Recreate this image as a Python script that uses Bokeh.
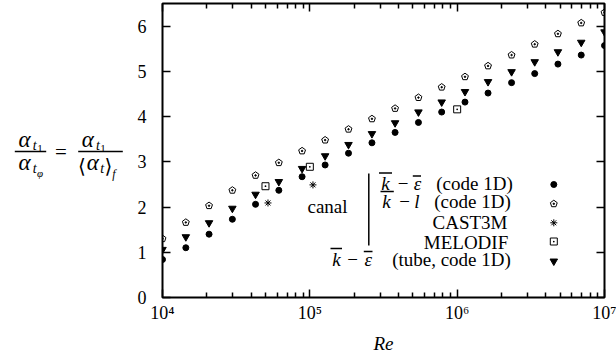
from bokeh.plotting import figure
from bokeh.layouts import row
from bokeh.models import Label, Arrow, LinearAxis, LogAxis, FixedTicker, Range1d
from bokeh.core.properties import value
from bokeh.embed import file_html
from bokeh.resources import INLINE
import math

# ---------------- data ----------------
re_1d = [1.00e4, 1.44e4, 2.07e4, 2.98e4, 4.28e4, 6.16e4, 8.86e4, 1.27e5, 1.83e5, 2.64e5,
         3.79e5, 5.46e5, 7.85e5, 1.13e6, 1.62e6, 2.34e6, 3.36e6, 4.83e6, 6.95e6, 1.00e7]
ke_canal = [0.84, 1.10, 1.40, 1.73, 2.06, 2.37, 2.67, 2.93, 3.19, 3.42,
            3.65, 3.87, 4.10, 4.32, 4.52, 4.75, 4.95, 5.16, 5.36, 5.57]
kl_canal = [1.30, 1.66, 2.03, 2.37, 2.70, 2.98, 3.24, 3.48, 3.72, 3.95,
            4.18, 4.42, 4.65, 4.88, 5.12, 5.36, 5.60, 5.83, 6.07, 6.30]
ke_tube = [1.06, 1.34, 1.65, 1.97, 2.28, 2.56, 2.85, 3.13, 3.38, 3.62,
           3.86, 4.10, 4.32, 4.55, 4.77, 4.99, 5.21, 5.43, 5.64, 5.87]
re_cast3m = [5.2e4, 1.05e5]
cast3m = [2.09, 2.49]
re_melodif = [5.0e4, 1.0e5, 1.0e6]
melodif = [2.46, 2.89, 4.16]

x_major = [1e4, 1e5, 1e6, 1e7]
x_labels = ["10⁴", "10⁵", "10⁶", "10⁷"]
y_major = [0, 1, 2, 3, 4, 5, 6]

# ---------------- layout ----------------
FONT = "'Liberation Serif', 'DejaVu Serif', serif"
LW = 125                      # width of the y-title panel
W, H = 616 - LW, 363
ML, MR, MT, MB = 37, 12, 3, 66
FW = W - ML - MR
FH = H - MT - MB
X_LO, X_HI = 1e4, 1e7
Y_LO, Y_HI = 0.0, 6.5
BASE_SHIFT = 0.27             # empirical raise of the alphabetic baseline (in em)

p = figure(width=W, height=H, x_axis_type="log",
           x_range=Range1d(X_LO, X_HI), y_range=Range1d(Y_LO, Y_HI),
           output_backend="svg", toolbar_location=None,
           min_border_left=ML, min_border_right=MR, min_border_top=MT, min_border_bottom=MB)
p.grid.visible = False
p.background_fill_color = "white"
p.border_fill_color = "white"
p.outline_line_color = "black"
p.outline_line_width = 2

x_minor = [m * t for t in x_major[:-1] for m in range(2, 10)]

def style_axis(ax, show_labels, minor=True):
    ax.axis_line_color = None
    ax.major_tick_in = 8
    ax.major_tick_out = 0
    ax.minor_tick_in = 5 if minor else 0
    ax.minor_tick_out = 0
    ax.major_tick_line_color = "black"
    ax.major_tick_line_width = 1.5
    ax.minor_tick_line_color = "black" if minor else None
    ax.minor_tick_line_width = 1.5
    ax.major_label_text_font = FONT
    if show_labels:
        ax.major_label_text_font_size = "18px"
        ax.major_label_text_color = "black"
    else:
        ax.major_label_text_font_size = "1px"
        ax.major_label_text_color = None
        ax.major_label_standoff = 0

xa = p.xaxis[0]
xa.ticker = FixedTicker(ticks=x_major, minor_ticks=x_minor)
xa.major_label_overrides = {float(v): s for v, s in zip(x_major, x_labels)}
xa.major_label_standoff = 5
style_axis(xa, True)
xa.axis_label = "Re"
xa.axis_label_text_font = FONT
xa.axis_label_text_font_size = "19px"
xa.axis_label_text_font_style = "italic"
xa.axis_label_text_color = "black"
xa.axis_label_standoff = 7

ya = p.yaxis[0]
ya.ticker = FixedTicker(ticks=y_major)
ya.major_label_standoff = 16
style_axis(ya, True, minor=False)

top = LogAxis(ticker=FixedTicker(ticks=x_major, minor_ticks=x_minor))
style_axis(top, False)
p.add_layout(top, "above")
right = LinearAxis(ticker=FixedTicker(ticks=y_major))
style_axis(right, False, minor=False)
p.add_layout(right, "right")

# ---------------- data marks ----------------
p.scatter(re_1d, ke_canal, marker="circle", size=6, fill_color="black", line_color="black")
p.scatter(re_1d, ke_tube, marker="inverted_triangle", size=7.5, fill_color="black", line_color="black")
p.ngon(x=re_1d, y=kl_canal, radius=3.6, radius_units="screen", n=5,
       fill_color=None, line_color="black", line_width=1)
p.scatter(re_1d, kl_canal, marker="circle", size=1.5, fill_color="black", line_color="black")
p.scatter(re_cast3m, cast3m, marker="asterisk", size=7, line_color="black", line_width=1)
p.scatter(re_melodif, melodif, marker="square_dot", size=7, fill_color=None, line_color="black", line_width=1)

# ---------------- legend (positions given in page pixels) ----------------
FX0 = LW + ML          # page x of frame left
FY0 = MT + FH          # page y of frame bottom
LF = 19                # legend font size

def lab(text, X, Y, size=LF, style="normal", align="center"):
    Yb = Y - BASE_SHIFT * size
    p.add_layout(Label(x=X - FX0, y=FY0 - Yb, x_units="screen", y_units="screen",
                       text=text, text_font=FONT, text_font_size=f"{size}px",
                       text_font_style=style, text_align=align, text_baseline="alphabetic",
                       text_color="black"))

def seg(X0, Y0, X1, Y1, w=1.3):
    p.add_layout(Arrow(end=None, x_start=X0 - FX0, y_start=FY0 - Y0,
                       x_end=X1 - FX0, y_end=FY0 - Y1, start_units="screen", end_units="screen",
                       line_color="black", line_width=w))

def data_x(X):
    return 10 ** (math.log10(X_LO) + (X - FX0) / FW * (math.log10(X_HI) - math.log10(X_LO)))
def data_y(Y):
    return Y_LO + (FY0 - Y) / FH * (Y_HI - Y_LO)

rows_B = [188.3, 206.0, 227.5, 247.3, 264.0]   # text baselines
# row 1 : k-bar - eps-bar (code 1D)
lab("k", 385, rows_B[0], style="italic")
lab("−", 402.5, rows_B[0])
lab("ε", 417, rows_B[0], style="italic")
seg(378.5, 172.5, 391.5, 172.5)
seg(412.3, 175.5, 420.5, 175.5)
lab("(code 1D)", 474, rows_B[0])
# row 2 : k - l (code 1D)
lab("k", 386, rows_B[1], style="italic")
lab("−", 404, rows_B[1])
lab("l", 416.5, rows_B[1], style="italic")
seg(380, 191, 393.3, 191)
lab("(code 1D)", 472, rows_B[1])
# rows 3, 4
lab("CAST3M", 469.5, rows_B[2])
lab("MELODIF", 465.5, rows_B[3])
# row 5 : k-bar - eps-bar (tube, code 1D)
lab("k", 336, rows_B[4], style="italic")
lab("−", 352, rows_B[4])
lab("ε", 367.7, rows_B[4], style="italic")
seg(330, 248, 341.5, 248)
seg(363.3, 251, 372, 251)
lab("(tube, code 1D)", 451, rows_B[4])
# group label
lab("canal", 327, 211.5)
seg(368.3, 173, 368.3, 245, w=1.5)

MX = data_x(553.3)
p.scatter([MX], [data_y(184)], marker="circle", size=6, fill_color="black", line_color="black")
p.ngon(x=[MX], y=[data_y(203.3)], radius=3.6, radius_units="screen", n=5,
       fill_color=None, line_color="black", line_width=1)
p.scatter([MX], [data_y(203.3)], marker="circle", size=1.5, fill_color="black", line_color="black")
p.scatter([MX], [data_y(222.3)], marker="asterisk", size=7, line_color="black", line_width=1)
p.scatter([MX], [data_y(241)], marker="square_dot", size=7, fill_color=None, line_color="black", line_width=1)
p.scatter([MX], [data_y(260.7)], marker="inverted_triangle", size=7.5, fill_color="black", line_color="black")

# ---------------- y-title panel: a_t1 / a_tphi = a_t1 / <a_t>_f ----------------
# Bokeh aligns the frames of plots in a row, so this panel's frame spans the
# same page rows as the main frame; its y range is set so that data y == page y.
L = figure(width=LW, height=H, x_range=Range1d(0, LW), y_range=Range1d(MT + FH, MT),
           output_backend="svg", toolbar_location=None,
           x_axis_location=None, y_axis_location=None,
           min_border_left=0, min_border_right=0, min_border_top=MT, min_border_bottom=MB)
L.grid.visible = False
L.outline_line_color = None
L.background_fill_color = "white"
L.border_fill_color = "white"

def ltxt(text, X, Y, size, style="normal"):
    L.text(x=[X], y=[Y - BASE_SHIFT * size], text=[text], text_font=value(FONT),
           text_font_size=value(f"{size}px"), text_font_style=style,
           text_align="center", text_baseline="alphabetic", text_color="black")

# numerators baseline ~145, denominators baseline ~168
ltxt("α", 24, 145.5, 23, "italic")
ltxt("t", 34.3, 148.5, 14, "italic")
ltxt("1", 39.5, 151, 11)
ltxt("α", 24, 168.5, 23, "italic")
ltxt("t", 34.3, 171.5, 14, "italic")
ltxt("φ", 39.5, 175, 11, "italic")
ltxt("=", 60.5, 157.5, 21)
ltxt("α", 87.3, 145.5, 23, "italic")
ltxt("t", 97.5, 148.5, 14, "italic")
ltxt("1", 102.5, 151, 11)
ltxt("⟨", 81.5, 171, 20)
ltxt("α", 92.3, 168.5, 23, "italic")
ltxt("t", 101.8, 171.5, 14, "italic")
ltxt("⟩", 108, 171, 20)
ltxt("f", 113.5, 176.5, 12, "italic")
L.segment(x0=[14.3, 77.7], y0=[151, 151], x1=[45.7, 122.3], y1=[151, 151],
          line_color="black", line_width=1.3)

layout = row(L, p, spacing=0)
open("out.html", "w").write(file_html(layout, INLINE))
